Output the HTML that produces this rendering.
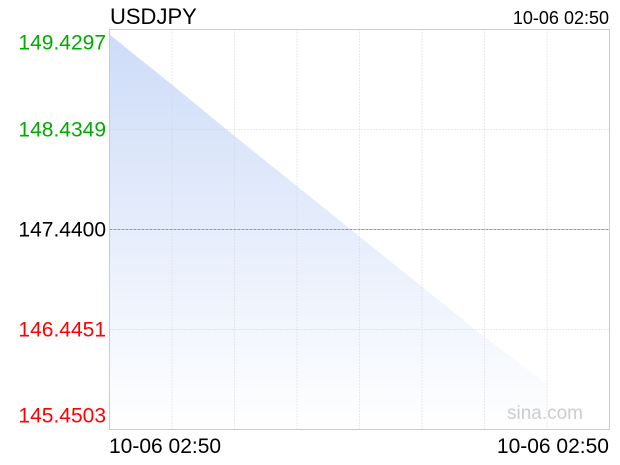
<!DOCTYPE html>
<html><head><meta charset="utf-8"><style>
body{margin:0;width:620px;height:460px;background:#fff;font-family:"Liberation Sans",sans-serif;overflow:hidden}
</style></head><body>
<svg width="620" height="460" id="c">
<defs><linearGradient id="g" x1="0" y1="0" x2="0" y2="1"><stop offset="0" stop-color="#cddcf8"/><stop offset="1" stop-color="#ffffff"/></linearGradient></defs>
<text x="110" y="24" font-size="22" fill="#000">USDJPY</text>
<text x="609" y="24" font-size="18" fill="#000" text-anchor="end">10-06 02:50</text>
<path id="area" fill="url(#g)"/>
<g id="grid"></g>
<rect x="109.5" y="29.5" width="500" height="400" fill="none" stroke="#ccc"/>
<text x="545" y="419" font-size="19" fill="#ccc" text-anchor="middle">sina.com</text>
<g id="ylab"></g>
<text x="109" y="453" font-size="21">10-06 02:50</text>
<text x="609" y="453" font-size="21" text-anchor="end">10-06 02:50</text>
</svg>
<script>
const values=[149.38,148.88,148.37,147.87,147.37,146.87,146.37,145.90];
const yTicks=[149.4297,148.4349,147.4400,146.4451,145.4503];
const yColors=["#00aa00","#00aa00","#000","#f00","#f00"];
const NS="http://www.w3.org/2000/svg";
const L=109.5,T=29.5,W=500,H=400,yMin=145.4503,yMax=149.4297,nDiv=8;
const x=i=>L+i*W/nDiv, y=v=>T+(yMax-v)/(yMax-yMin)*H;
const grid=document.getElementById('grid');
for(let i=1;i<nDiv;i++){const l=document.createElementNS(NS,'line');
l.setAttribute('x1',x(i));l.setAttribute('x2',x(i));l.setAttribute('y1',T);l.setAttribute('y2',T+H);
l.setAttribute('stroke','#d4d4d4');l.setAttribute('stroke-dasharray','1,2');


grid.appendChild(l);}
const yl=document.getElementById('ylab');
yTicks.forEach((t,i)=>{const yy=y(t);
if(i>0&&i<yTicks.length-1){const l=document.createElementNS(NS,'line');
l.setAttribute('x1',L);l.setAttribute('x2',L+W);l.setAttribute('y1',yy);l.setAttribute('y2',yy);
l.setAttribute('stroke',i==2?'#999':'#d4d4d4');l.setAttribute('stroke-dasharray',i==2?'3,1':'1,2');


grid.appendChild(l);}
const tx=document.createElementNS(NS,'text');
tx.setAttribute('x',106);tx.setAttribute('text-anchor','end');tx.setAttribute('font-size','21');
tx.setAttribute('fill',yColors[i]);
let ty=yy+7; if(i==0)ty=yy+20; if(i==yTicks.length-1)ty=yy-7;
tx.setAttribute('y',ty);tx.textContent=t.toFixed(4);


yl.appendChild(tx);});
let d='M'+x(0)+','+(T+H);
values.forEach((v,i)=>{d+=' L'+x(i)+','+y(v);});
d+=' L'+x(values.length-1)+','+(T+H)+' Z';
document.getElementById('area').setAttribute('d',d);
</script>
</body></html>
